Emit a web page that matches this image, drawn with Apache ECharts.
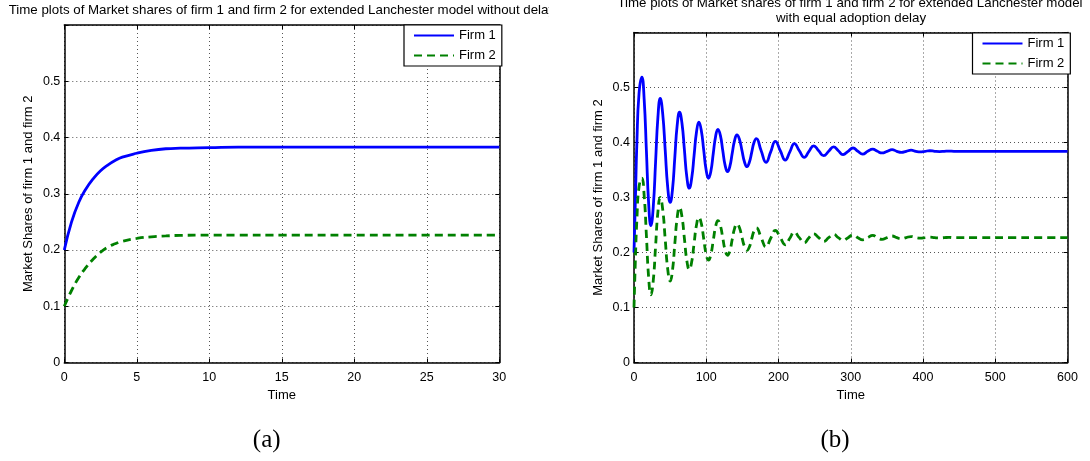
<!DOCTYPE html>
<html><head><meta charset="utf-8">
<script src="https://cdn.jsdelivr.net/npm/echarts@6/dist/echarts.min.js"></script>
<style>html,body{margin:0;padding:0;background:#fff}#c{width:1090px;height:461px}</style>
</head><body><div id="c"></div>
<script>
// ---- Data ----
const seriesNames = ['Firm 1', 'Firm 2'];
const leftTime  = [0, 0.5, 1, 1.5, 2, 2.5, 3, 3.5, 4, 5, 6, 7, 8, 10, 12, 15, 20, 25, 30];
const leftFirm1 = [0.2, 0.25, 0.285, 0.309, 0.327, 0.341, 0.351, 0.359, 0.365, 0.372, 0.377, 0.380, 0.381, 0.382, 0.383, 0.383, 0.383, 0.383, 0.383];
const leftFirm2 = [0.1, 0.128, 0.151, 0.169, 0.184, 0.196, 0.205, 0.211, 0.2155, 0.2205, 0.2235, 0.225, 0.226, 0.2265, 0.2265, 0.2265, 0.2265, 0.2265, 0.2265];

const rightTime = [0, 2, 4, 7,
  10.9, 14.05, 17.2, 20.3, 23.4, 26.65, 29.9, 33.1,
  36.3, 39.75, 43.2, 46.65, 50.1, 53.3, 56.5, 59.75,
  63.0, 66.4, 69.8, 73.15, 76.5, 79.85, 83.2, 86.5,
  89.8, 93.15, 96.5, 99.85, 103.2, 106.45, 109.7, 112.95,
  116.2, 119.55, 122.9, 126.2, 129.5, 132.75, 136, 139.25,
  142.5, 146, 149.5, 152.95, 156.4, 159.65, 162.9, 166.1,
  169.3, 176, 182.7, 189.2, 195.6, 202.5, 209.4, 215.7,
  221.9, 228.8, 235.7, 242.2, 248.7, 255.6, 262.5, 269.4, 276.3, 282.8, 289.3, 296.3, 303.2, 309.9, 316.5, 323.5,
  330.4, 336.9, 343.3, 350.3, 357.2, 363.7, 370.1, 376.8, 383.5, 390, 396.4, 402.9, 409.3, 416.2, 423, 429.5,
  436, 442.8, 480, 520, 560, 600];
const rightFirm1 = [0.2, 0.3, 0.4, 0.49,
  0.519, 0.479, 0.384, 0.289, 0.249, 0.283, 0.365, 0.446,
  0.480, 0.452, 0.386, 0.319, 0.291, 0.315, 0.373, 0.431,
  0.455, 0.435, 0.386, 0.337, 0.317, 0.335, 0.377, 0.419,
  0.437, 0.422, 0.386, 0.350, 0.335, 0.348, 0.380, 0.411,
  0.424, 0.413, 0.385, 0.358, 0.347, 0.357, 0.381, 0.404,
  0.414, 0.4055, 0.385, 0.3645, 0.356, 0.364, 0.382, 0.400,
  0.407, 0.385, 0.364, 0.383,   0.402, 0.385, 0.368, 0.383,
  0.398, 0.385, 0.373, 0.384,   0.394, 0.385, 0.376, 0.384,   0.392, 0.385, 0.378, 0.384,   0.390, 0.384, 0.379, 0.384,
  0.388, 0.384, 0.381, 0.384,   0.387, 0.384, 0.382, 0.384,   0.386, 0.384, 0.383, 0.384,   0.385, 0.384, 0.3835, 0.384,
  0.3845, 0.384, 0.384, 0.384, 0.384, 0.384];
const rightFirm2 = [0.1, 0.19, 0.26, 0.32,
  0.335, 0.304, 0.23, 0.154, 0.123, 0.149, 0.212, 0.274,
  0.300, 0.278, 0.224, 0.170, 0.148, 0.168, 0.216, 0.263,
  0.282, 0.265, 0.225, 0.185, 0.169, 0.183, 0.217, 0.250,
  0.264, 0.253, 0.225, 0.197, 0.186, 0.197, 0.222, 0.247,
  0.258, 0.249, 0.226, 0.204, 0.195, 0.2035, 0.224, 0.244,
  0.252, 0.245, 0.227, 0.211, 0.204, 0.210, 0.225, 0.239,
  0.245, 0.227, 0.210, 0.226,   0.240, 0.227, 0.214, 0.226,
  0.237, 0.227, 0.218, 0.227,   0.234, 0.227, 0.220, 0.227,   0.233, 0.227, 0.222, 0.227,   0.232, 0.227, 0.223, 0.227,
  0.231, 0.227, 0.224, 0.227,   0.230, 0.227, 0.225, 0.227,   0.229, 0.227, 0.226, 0.227,   0.228, 0.227, 0.2265, 0.227,
  0.2275, 0.227, 0.227, 0.227, 0.227, 0.227];

const leftTitle = 'Time plots of Market shares of firm 1 and firm 2 for extended Lanchester model without delay';
const rightTitle1 = 'Time plots of Market shares of firm 1 and firm 2 for extended Lanchester model';
const rightTitle2 = 'with equal adoption delay';
const xName = 'Time';
const yName = 'Market Shares of firm 1 and firm 2';
const captions = ['(a)', '(b)'];

// ---- Chart ----
const FONT = 'Liberation Sans';
const FS = 12.5;
const pair = (xs, ys) => xs.map((x, i) => [x, ys[i]]);
const gridLine = { show: true, lineStyle: { color: '#555', type: [1, 3], width: 1 } };
const axLine = { show: true, onZero: false, lineStyle: { color: '#000', width: 1.5 } };
const tick = { show: true, inside: true, length: 4, lineStyle: { color: '#000', width: 1 } };

function xAxes(gi, max, interval) {
  return [
    { type: 'value', gridIndex: gi, min: 0, max: max, interval: interval, position: 'bottom',
      axisLine: axLine, axisTick: tick, splitLine: gridLine,
      axisLabel: { color: '#000', fontFamily: FONT, fontSize: FS, margin: 9 },
      name: xName, nameLocation: 'middle', nameGap: 24,
      nameTextStyle: { color: '#000', fontFamily: FONT, fontSize: 13 } },
    { type: 'value', gridIndex: gi, min: 0, max: max, interval: interval, position: 'top',
      axisLine: axLine, axisTick: tick, splitLine: { show: false }, axisLabel: { show: false } }
  ];
}
function yAxes(gi) {
  return [
    { type: 'value', gridIndex: gi, min: 0, max: 0.6, interval: 0.1, position: 'left',
      axisLine: axLine, axisTick: tick, splitLine: gridLine,
      axisLabel: { color: '#000', fontFamily: FONT, fontSize: FS, margin: 4,
        formatter: v => (v > 0.55 ? '' : (v === 0 ? '0' : v.toFixed(1))) },
      name: yName, nameLocation: 'middle', nameGap: 29,
      nameTextStyle: { color: '#000', fontFamily: FONT, fontSize: 13 } },
    { type: 'value', gridIndex: gi, min: 0, max: 0.6, interval: 0.1, position: 'right',
      axisLine: axLine, axisTick: tick, splitLine: { show: false }, axisLabel: { show: false } }
  ];
}
function mkSeries(name, data, xi, yi, color, dashed) {
  return { name: name, type: 'line', xAxisIndex: xi, yAxisIndex: yi, data: data,
    symbol: 'none', smooth: 0.5, animation: false, z: 3,
    lineStyle: { color: color, width: 2.8, type: dashed ? [8, 5] : 'solid' },
    itemStyle: { color: color } };
}
function legend(left, top) {
  return { left: left, top: top, orient: 'vertical', data: seriesNames,
    backgroundColor: '#fff', borderColor: '#000', borderWidth: 1.2, borderRadius: 0,
    padding: [4, 6, 4, 9], itemWidth: 40, itemHeight: 14, itemGap: 7,
    itemStyle: { opacity: 0 },
    textStyle: { color: '#000', fontFamily: FONT, fontSize: 13 }, selectedMode: false, z: 10 };
}

const chart = echarts.init(document.getElementById('c'), null, { renderer: 'canvas' });
chart.setOption({
  backgroundColor: '#fff',
  animation: false,
  grid: [
    { left: 64.3, top: 25, width: 435, height: 337.5, show: false },
    { left: 634, top: 32.5, width: 433.5, height: 330, show: false }
  ],
  xAxis: [...xAxes(0, 30, 5), ...xAxes(1, 600, 100)],
  yAxis: [...yAxes(0), ...yAxes(1)],
  legend: [legend(404, 25), legend(972.5, 33)],
  series: [
    mkSeries(seriesNames[0], pair(leftTime, leftFirm1), 0, 0, '#0000ff', false),
    mkSeries(seriesNames[1], pair(leftTime, leftFirm2), 0, 0, '#008000', true),
    mkSeries(seriesNames[0], pair(rightTime, rightFirm1), 2, 2, '#0000ff', false),
    mkSeries(seriesNames[1], pair(rightTime, rightFirm2), 2, 2, '#008000', true)
  ],
  graphic: [
    { type: 'text', x: 8.7, y: 10.4, z: 20,
      style: { text: leftTitle, font: '13.3px "Liberation Sans"', fill: '#000', textVerticalAlign: 'middle' } },
    { type: 'rect', shape: { x: 549, y: 0, width: 50, height: 24 }, z: 21, style: { fill: '#fff' } },
    { type: 'text', x: 850, y: 3, z: 22,
      style: { text: rightTitle1, font: '13.3px "Liberation Sans"', fill: '#000', textAlign: 'center', textVerticalAlign: 'middle' } },
    { type: 'text', x: 851, y: 18, z: 22,
      style: { text: rightTitle2, font: '13.3px "Liberation Sans"', fill: '#000', textAlign: 'center', textVerticalAlign: 'middle' } },
    { type: 'text', x: 266.7, y: 440, z: 22,
      style: { text: captions[0], font: '25px "Liberation Serif"', fill: '#000', textAlign: 'center', textVerticalAlign: 'middle' } },
    { type: 'text', x: 835, y: 440, z: 22,
      style: { text: captions[1], font: '25px "Liberation Serif"', fill: '#000', textAlign: 'center', textVerticalAlign: 'middle' } }
  ]
});
</script></body></html>
